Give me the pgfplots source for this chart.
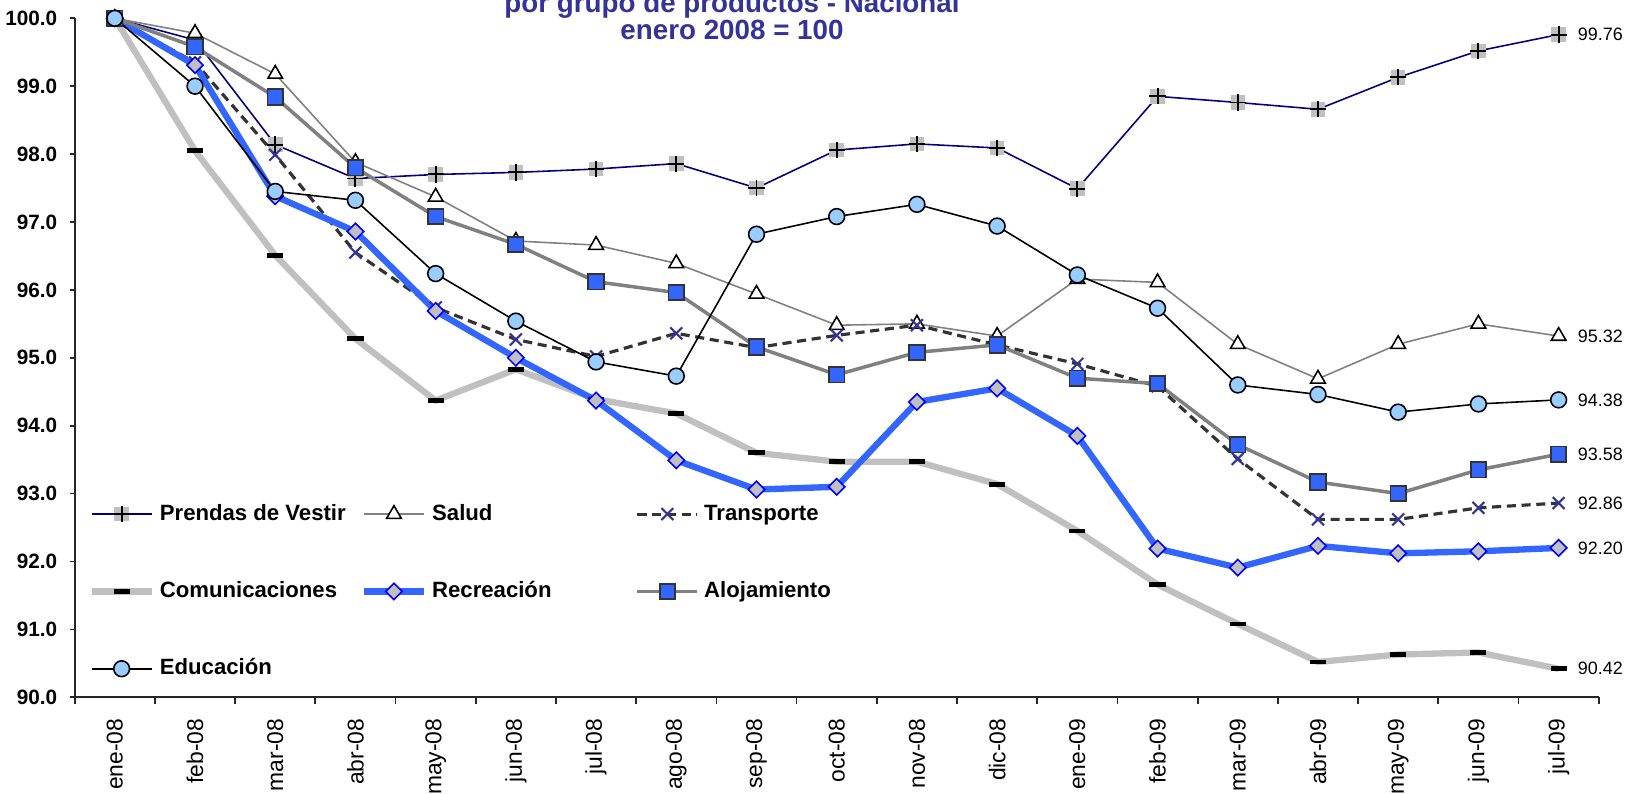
\documentclass[border=0pt]{standalone}
\usepackage{fontspec}
\setmainfont{Liberation Sans}
\usepackage{pgfplots}
\usepackage{pgfplotstable}
\pgfplotsset{compat=1.18}

\definecolor{titazul}{HTML}{333399}
\definecolor{marino}{HTML}{000080}
\definecolor{gris}{HTML}{C0C0C0}
\definecolor{grismed}{HTML}{808080}
\definecolor{grisosc}{HTML}{333333}
\definecolor{azulrec}{HTML}{3366FF}
\definecolor{celeste}{HTML}{99CCFF}

% cuadrado gris con cruz negra (Prendas de Vestir)
\pgfdeclareplotmark{sqplus}{%
  \pgfpathrectangle{\pgfpoint{-0.9\pgfplotmarksize}{-0.9\pgfplotmarksize}}{\pgfpoint{1.8\pgfplotmarksize}{1.8\pgfplotmarksize}}%
  \pgfsetfillcolor{gris}\pgfusepath{fill}%
  \pgfpathmoveto{\pgfpoint{-\pgfplotmarksize}{0pt}}\pgfpathlineto{\pgfpoint{\pgfplotmarksize}{0pt}}%
  \pgfpathmoveto{\pgfpoint{0pt}{-\pgfplotmarksize}}\pgfpathlineto{\pgfpoint{0pt}{\pgfplotmarksize}}%
  \pgfsetstrokecolor{black}\pgfsetlinewidth{0.55pt}\pgfusepath{stroke}}
% guion negro (Comunicaciones)
\pgfdeclareplotmark{hbar}{%
  \pgfpathrectangle{\pgfpoint{-\pgfplotmarksize}{-0.3\pgfplotmarksize}}{\pgfpoint{2\pgfplotmarksize}{0.6\pgfplotmarksize}}%
  \pgfsetfillcolor{black}\pgfusepath{fill}}

\pgfplotstableread{
idx prendas salud transp comunic recre aloja educ
0  100.00 100.00 100.00 100.00 100.00 100.00 100.00
1  99.68  99.78  99.35  98.05  99.31  99.58  99.00
2  98.14  99.18  97.99  96.51  97.38  98.84  97.45
3  97.64  97.88  96.55  95.28  96.86  97.80  97.32
4  97.70  97.37  95.74  94.37  95.69  97.08  96.24
5  97.73  96.72  95.27  94.83  95.00  96.67  95.54
6  97.78  96.66  95.02  94.39  94.37  96.12  94.94
7  97.86  96.39  95.36  94.18  93.49  95.96  94.73
8  97.50  95.94  95.15  93.60  93.06  95.16  96.82
9  98.06  95.48  95.33  93.47  93.10  94.75  97.08
10 98.15  95.50  95.48  93.47  94.35  95.08  97.26
11 98.09  95.32  95.19  93.14  94.55  95.19  96.94
12 97.49  96.16  94.91  92.45  93.85  94.70  96.22
13 98.85  96.11  94.58  91.66  92.19  94.62  95.73
14 98.76  95.20  93.51  91.08  91.91  93.72  94.60
15 98.66  94.69  92.62  90.52  92.23  93.17  94.46
16 99.13  95.20  92.62  90.63  92.12  93.00  94.20
17 99.52  95.50  92.79  90.66  92.15  93.35  94.32
18 99.76  95.32  92.86  90.42  92.20  93.58  94.38
}\datos

\begin{document}
\begin{tikzpicture}
\begin{axis}[
  name=ax,
  at={(0,0)}, anchor=south west,
  scale only axis, width=15.24cm, height=6.79cm,
  xmin=-0.5, xmax=18.5, ymin=90, ymax=100,
  axis x line*=bottom, axis y line*=left,
  axis line style={black!85, line width=0.6pt},
  clip=false,
  tick align=outside,
  major tick length=0.05cm, minor tick length=0.065cm,
  xtick={0,...,18},
  xticklabels={ene-08,feb-08,mar-08,abr-08,may-08,jun-08,jul-08,ago-08,sep-08,oct-08,nov-08,dic-08,ene-09,feb-09,mar-09,abr-09,may-09,jun-09,jul-09},
  minor xtick={-0.5,0.5,...,18.5},
  major x tick style={draw=none},
  minor x tick style={black!85, line width=0.5pt},
  y tick style={black!85, line width=0.5pt},
  xticklabel style={rotate=90, anchor=east, font=\fontsize{6.5}{7.5}\selectfont},
  xticklabel shift=0.04cm,
  ytick={90,91,...,100},
  yticklabel style={font=\bfseries\fontsize{5.9}{7}\selectfont,
    /pgf/number format/fixed, /pgf/number format/fixed zerofill,
    /pgf/number format/precision=1, /pgf/number format/assume math mode=true},
  legend columns=3,
  legend cell align=left,
  legend style={draw=none, fill=none, at={(0.0086,0.298)}, anchor=north west,
    font=\bfseries\fontsize{6.3}{7.5}\selectfont,
    inner xsep=0pt, inner ysep=0pt,
    nodes={inner xsep=0.3pt, inner ysep=2pt, text height=5pt, text depth=1.5pt},
    row sep=11.5pt,
    /tikz/column 1/.style={column sep=0.04cm},
    /tikz/column 3/.style={column sep=0.04cm},
    /tikz/column 5/.style={column sep=0.04cm},
    /tikz/column 2/.style={column sep=0.14cm},
    /tikz/column 4/.style={column sep=0.83cm}},
]
\addplot[marino, line width=0.45pt, mark=sqplus, mark size=2.3pt]
  table[x=idx, y=prendas] {\datos};
\addlegendentry{Prendas de Vestir}
\addplot[grismed, line width=0.45pt, mark=triangle*, mark size=2.4pt,
  mark options={fill=white, draw=black, line width=0.45pt}]
  table[x=idx, y=salud] {\datos};
\addlegendentry{Salud}
\addplot[grisosc, line width=0.9pt, dash pattern=on 2.6pt off 1.6pt, mark=x, mark size=2.4pt,
  mark options={solid, titazul, line width=0.6pt}]
  table[x=idx, y=transp] {\datos};
\addlegendentry{Transporte}
\addplot[gris, line width=1.8pt, mark=hbar, mark size=2.3pt]
  table[x=idx, y=comunic] {\datos};
\addlegendentry{Comunicaciones}
\addplot[azulrec, line width=1.8pt, mark=square*, mark size=1.65pt,
  mark options={rotate=45, fill=gris, draw=blue, line width=0.45pt}]
  table[x=idx, y=recre] {\datos};
\addlegendentry{Recreación}
\addplot[grismed, line width=1.0pt, mark=square*, mark size=2.2pt,
  mark options={fill=azulrec, draw=grisosc, line width=0.5pt}]
  table[x=idx, y=aloja] {\datos};
\addlegendentry{Alojamiento}
\addplot[black, line width=0.45pt, mark=*, mark size=2.25pt,
  mark options={fill=celeste, draw=black, line width=0.45pt}]
  table[x=idx, y=educ] {\datos};
\addlegendentry{Educación}

% valores finales
\node[anchor=west, inner sep=0pt, xshift=0.186cm, font=\fontsize{5.1}{6}\selectfont] at (axis cs:18,99.76) {99.76};
\node[anchor=west, inner sep=0pt, xshift=0.186cm, font=\fontsize{5.1}{6}\selectfont] at (axis cs:18,95.32) {95.32};
\node[anchor=west, inner sep=0pt, xshift=0.186cm, font=\fontsize{5.1}{6}\selectfont] at (axis cs:18,94.38) {94.38};
\node[anchor=west, inner sep=0pt, xshift=0.186cm, font=\fontsize{5.1}{6}\selectfont] at (axis cs:18,93.58) {93.58};
\node[anchor=west, inner sep=0pt, xshift=0.186cm, font=\fontsize{5.1}{6}\selectfont] at (axis cs:18,92.86) {92.86};
\node[anchor=west, inner sep=0pt, xshift=0.186cm, font=\fontsize{5.1}{6}\selectfont] at (axis cs:18,92.20) {92.20};
\node[anchor=west, inner sep=0pt, xshift=0.186cm, font=\fontsize{5.1}{6}\selectfont] at (axis cs:18,90.42) {90.42};

% titulo
\node[anchor=base, font=\bfseries\fontsize{7.9}{9}\selectfont, text=titazul, yshift=0.058cm]
  at (rel axis cs:0.4313,1) {por grupo de productos - Nacional};
\node[anchor=base, font=\bfseries\fontsize{7.9}{9}\selectfont, text=titazul, yshift=-0.217cm]
  at (rel axis cs:0.4313,1) {enero 2008 = 100};
\end{axis}
\pgfresetboundingbox
\path (-0.747,-0.96) rectangle (15.513,6.973);
\end{tikzpicture}
\end{document}
